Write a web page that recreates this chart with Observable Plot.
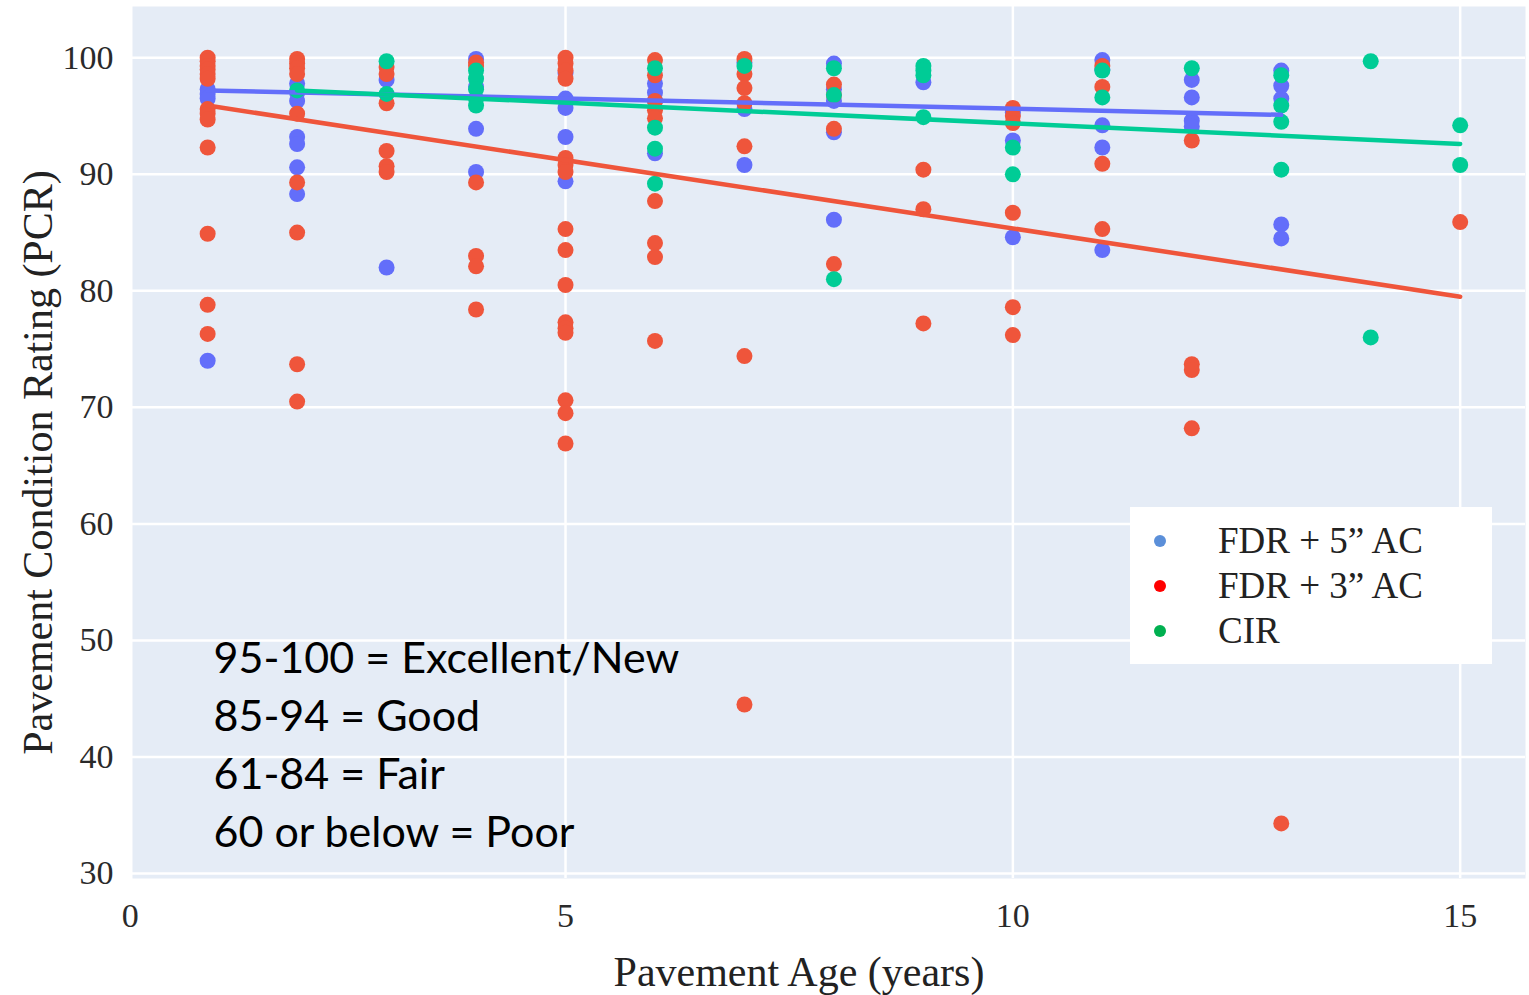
<!DOCTYPE html>
<html>
<head>
<meta charset="utf-8">
<script src="https://cdn.jsdelivr.net/npm/d3@7"></script>
<script src="https://cdn.jsdelivr.net/npm/@observablehq/plot@0.6"></script>
<style>
  body { margin: 0; background: #fff; }
  #wrap { position: relative; width: 1529px; height: 995px; }
  #legend { position: absolute; left: 1130px; top: 507px; width: 362px; height: 157px; background: #fff;
            font-family: "Liberation Serif", serif; font-size: 37px; color: #222; }
  #legend .item { position: absolute; left: 0; height: 44px; line-height: 44px; }
  #legend .dot { position: absolute; left: 24px; top: 16px; width: 12px; height: 12px; border-radius: 50%; }
  #legend .lab { position: absolute; left: 88px; white-space: nowrap; }
</style>
</head>
<body>
<div id="wrap"></div>
<script>
// ---- data ----
const seriesNames = ["FDR + 5\u201D AC", "FDR + 3\u201D AC", "CIR"];
const seriesColors = ["#636efa", "#ef553b", "#00cc96"];
const legendColors = ["#5b8fd9", "#ff0000", "#00b050"];

const ageTicks = [0, 5, 10, 15];
const pcrTicks = [30, 40, 50, 60, 70, 80, 90, 100];

// PCR values grouped by pavement age (years)
const fdr5ByAge = [
  [1, [97.3, 96.9, 96.5, 74.0]],
  [2, [97.8, 97.0, 96.3, 93.2, 92.6, 90.6, 88.3]],
  [3, [98.1, 82.0]],
  [4, [99.9, 97.5, 93.9, 90.2]],
  [5, [98.7, 96.5, 95.7, 93.2, 89.4]],
  [6, [97.8, 97.0, 96.3, 91.8]],
  [7, [99.6, 95.6, 90.8]],
  [8, [99.5, 97.3, 96.3, 93.6, 86.1]],
  [9, [97.9]],
  [10, [95.3, 92.9, 84.6]],
  [11, [99.8, 99.0, 94.2, 92.3, 83.5]],
  [12, [98.1, 96.6, 94.6, 94.1]],
  [13, [98.9, 97.6, 96.5, 85.7, 84.5]]
];
const fdr3ByAge = [
  [1, [100, 99.7, 99.3, 99.0, 98.6, 98.2, 95.6, 95.2, 94.7, 92.3, 84.9, 78.8, 76.3]],
  [2, [99.9, 99.5, 99.1, 98.6, 95.2, 89.3, 85.0, 73.7, 70.5]],
  [3, [99.2, 98.6, 96.1, 92.0, 90.7, 90.2]],
  [4, [99.6, 99.3, 89.3, 83.0, 82.1, 78.4]],
  [5, [100, 99.5, 98.9, 98.2, 91.4, 90.8, 90.2, 85.3, 83.5, 80.5, 77.3, 76.8, 76.4, 70.6, 69.5, 66.9]],
  [6, [99.8, 98.5, 96.3, 95.5, 94.8, 87.7, 84.1, 82.9, 75.7]],
  [7, [99.9, 98.6, 97.4, 96.1, 92.4, 74.4, 44.5]],
  [8, [97.7, 96.8, 93.9, 82.3]],
  [9, [90.4, 87.0, 77.2]],
  [10, [95.7, 95.0, 94.4, 86.7, 78.6, 76.2]],
  [11, [99.3, 97.5, 90.9, 85.3]],
  [12, [92.9, 73.7, 73.2, 68.2]],
  [13, [34.3]],
  [15, [85.9]]
];
const cirByAge = [
  [2, [97.2]],
  [3, [99.7, 96.9]],
  [4, [98.9, 98.2, 97.3, 96.5, 95.9]],
  [6, [99.1, 94.0, 92.2, 89.2]],
  [7, [99.3]],
  [8, [99.1, 96.8, 81.0]],
  [9, [99.3, 98.9, 98.5, 94.9]],
  [10, [92.3, 90.0]],
  [11, [98.9, 96.6]],
  [12, [99.1]],
  [13, [98.5, 95.9, 94.5, 90.4]],
  [14, [99.7, 76.0]],
  [15, [94.2, 90.8]]
];

// trend line end points [age, PCR]
const fdr5Trend = [[1, 97.2], [13, 95.1]];
const fdr3Trend = [[1, 95.9], [15, 79.5]];
const cirTrend  = [[2, 97.2], [15, 92.6]];

const ratingNotes = ["95-100 = Excellent/New", "85-94 = Good", "61-84 = Fair", "60 or below = Poor"];
const xTitle = "Pavement Age (years)";
const yTitle = "Pavement Condition Rating (PCR)";

// ---- build tables ----
const groups = [fdr5ByAge, fdr3ByAge, cirByAge];
const points = [];
groups.forEach((g, i) => g.forEach(([age, vals]) => vals.forEach(v => points.push({series: seriesNames[i], age, pcr: v}))));
const trends = [];
[fdr3Trend, fdr5Trend, cirTrend].forEach((t, j) => {
  const i = [1, 0, 2][j];
  t.forEach(([age, pcr]) => trends.push({series: seriesNames[i], age, pcr, order: j}));
});

const W = 1529, H = 995;
const tickFont = {tickSize: 0, label: null, fontSize: 34, fill: "#2a2a2a"};
const chart = Plot.plot({
  width: W, height: H,
  marginLeft: 132, marginRight: 4, marginTop: 6, marginBottom: 117,
  style: {fontFamily: "'Liberation Serif', 'Times New Roman', serif", fontSize: "34px", color: "#2a2a2a", background: "transparent", overflow: "visible"},
  x: {domain: [0.16, 15.73]},
  y: {domain: [29.57, 104.4]},
  color: {domain: seriesNames, range: seriesColors},
  marks: [
    Plot.frame({fill: "#e5ecf6", stroke: null}),
    Plot.gridX(ageTicks.slice(1), {stroke: "#fff", strokeOpacity: 1, strokeWidth: 2.5}),
    Plot.gridY(pcrTicks, {stroke: "#fff", strokeOpacity: 1, strokeWidth: 2.5}),
    Plot.axisX(ageTicks.slice(0, 1), {...tickFont, tickPadding: 24, dx: 12}),
    Plot.axisX(ageTicks.slice(1), {...tickFont, tickPadding: 24}),
    Plot.axisY(pcrTicks, {...tickFont, tickPadding: 19}),
    Plot.dot(points, {x: "age", y: "pcr", fill: "series", r: 8, stroke: null}),
    Plot.line(trends, {x: "age", y: "pcr", z: "order", stroke: "series", strokeWidth: 4.5}),
    Plot.text([xTitle], {frameAnchor: "bottom", dx: -30, dy: 107, fontSize: 42, fill: "#222"}),
    Plot.text([yTitle], {frameAnchor: "left", textAnchor: "middle", rotate: -90, dx: -94, dy: 20, fontSize: 42, fill: "#222"}),
    Plot.text([ratingNotes.join("\n")], {frameAnchor: "top-left", textAnchor: "start", lineAnchor: "middle",
      dx: 81, dy: 735, fontSize: 43, lineHeight: 1.35, fill: "#000", fontFamily: "Lato, 'Open Sans', sans-serif"})
  ]
});

const wrap = document.getElementById("wrap");
wrap.appendChild(chart);

// legend (inside the plot area, white box)
const legend = document.createElement("div");
legend.id = "legend";
seriesNames.forEach((name, i) => {
  const item = document.createElement("div");
  item.className = "item";
  item.style.top = (12 + i * 45) + "px";
  item.style.width = "100%";
  const dot = document.createElement("span");
  dot.className = "dot";
  dot.style.background = legendColors[i];
  const lab = document.createElement("span");
  lab.className = "lab";
  lab.textContent = name;
  item.appendChild(dot);
  item.appendChild(lab);
  legend.appendChild(item);
});
wrap.appendChild(legend);
</script>
</body>
</html>
